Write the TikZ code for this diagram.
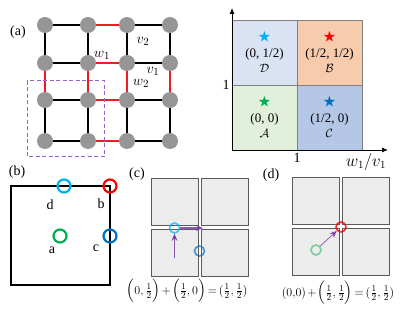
\documentclass[tikz,border=0pt]{standalone}
\usepackage{amsmath, amssymb}
\usepackage{fontspec}
\setmainfont{Liberation Serif}
\usetikzlibrary{arrows.meta, positioning}
\definecolor{sitegray}{RGB}{150, 150, 150}
\definecolor{bondred}{RGB}{235, 30, 35}
\definecolor{boxpurple}{RGB}{150, 100, 200}
\definecolor{arrowpurple}{RGB}{112, 48, 160}
\definecolor{regionA}{RGB}{226, 239, 218}
\definecolor{regionB}{RGB}{248, 203, 173}
\definecolor{regionC}{RGB}{180, 199, 231}
\definecolor{regionD}{RGB}{218, 227, 243}
\definecolor{starcyan}{RGB}{0, 176, 240}
\definecolor{starred}{RGB}{255, 0, 0}
\definecolor{stargreen}{RGB}{0, 176, 80}
\definecolor{starblue}{RGB}{0, 112, 192}
\definecolor{cellgray}{RGB}{236, 236, 236}
\definecolor{cellline}{RGB}{90, 90, 90}

\begin{document}
\begin{tikzpicture}[
  x=1pt, y=-1pt,
  site/.style={circle, fill=sitegray, minimum size=16pt, inner sep=0pt},
  hbond/.style={line width=1.9pt},
  vbond/.style={line width=1.1pt},
  redbond/.style={bondred, line width=1.2pt},
  region/.style={rectangle, draw=gray, minimum size=65pt, inner sep=0pt, align=center,
    font=\fontsize{13}{14.5}\selectfont},
  axis/.style={-{Latex[length=6pt, width=5pt]}, line width=0.9pt},
  ring/.style={circle, draw, line width=2.2pt, minimum size=13pt, inner sep=0pt},
  smallring/.style={circle, draw, line width=1.6pt, minimum size=10pt, inner sep=0pt},
  cell/.style={rectangle, draw=cellline, fill=cellgray, minimum size=47pt, inner sep=0pt, line width=0.6pt},
  parrow/.style={-{Stealth[length=7pt, width=6pt]}, arrowpurple, opacity=0.8},
  tag/.style={font=\fontsize{14}{16}\selectfont},
  letter/.style={font=\fontsize{14}{16}\selectfont},
  bondlabel/.style={font=\fontsize{15}{17}\selectfont},
  formula/.style={font=\fontsize{13}{15}\selectfont}
]
\useasboundingbox (0,0) rectangle (409,312);

% Panel (a): lattice
\node[tag] (taga) at (18,32) {(a)};
\node[site] (s11) at (45,25) {};  \node[site] (s12) at (88,25) {};  \node[site] (s13) at (127,25) {};  \node[site] (s14) at (170,25) {};
\node[site] (s21) at (45,63) {};  \node[site] (s22) at (88,63) {};  \node[site] (s23) at (127,63) {};  \node[site] (s24) at (170,63) {};
\node[site] (s31) at (45,100) {}; \node[site] (s32) at (88,100) {}; \node[site] (s33) at (127,100) {}; \node[site] (s34) at (170,100) {};
\node[site] (s41) at (45,141) {}; \node[site] (s42) at (88,141) {}; \node[site] (s43) at (127,141) {}; \node[site] (s44) at (170,141) {};

% horizontal bonds
\draw[hbond] (s11) -- (s12);  \draw[redbond] (s12) -- (s13);  \draw[hbond] (s13) -- (s14);
\draw[hbond] (s21) -- (s22);  \draw[redbond, line width=1.9pt] (s22) -- (s23);  \draw[hbond] (s23) -- (s24);
\draw[hbond] (s31) -- (s32);  \draw[redbond] (s32) -- (s33);  \draw[hbond] (s33) -- (s34);
\draw[hbond] (s41) -- (s42);  \draw[redbond] (s42) -- (s43);  \draw[hbond] (s43) -- (s44);

% vertical bonds
\draw[vbond] (s11) -- (s21);  \draw[redbond] (s21) -- (s31);  \draw[vbond] (s31) -- (s41);
\draw[vbond] (s12) -- (s22);  \draw[redbond] (s22) -- (s32);  \draw[vbond] (s32) -- (s42);
\draw[vbond] (s13) -- (s23);  \draw[redbond] (s23) -- (s33);  \draw[vbond] (s33) -- (s43);
\draw[vbond] (s14) -- (s24);  \draw[redbond] (s24) -- (s34);  \draw[vbond] (s34) -- (s44);

% bond labels
\node[bondlabel] (lw1) at (102,55) {$w_1$};
\node[bondlabel] (lv2) at (143,41) {$v_2$};
\node[bondlabel] (lv1) at (153,71) {$v_1$};
\node[bondlabel] (lw2) at (141,83) {$w_2$};

% unit cell
\draw[boxpurple, dashed, dash pattern=on 4pt off 2.5pt, line width=1pt] (27,81) rectangle (104,157);

% Panel (a): phase diagram
\node[region, fill=regionD] (D) at (264.5,52.5) {\textcolor{starcyan}{$\bigstar$}\\[2pt](0, 1/2)\\[1pt]$\mathcal{D}$};
\node[region, fill=regionB] (B) at (329.5,52.5) {\textcolor{starred}{$\bigstar$}\\[2pt](1/2, 1/2)\\[1pt]$\mathcal{B}$};
\node[region, fill=regionA] (A) at (264.5,117.5) {\textcolor{stargreen}{$\bigstar$}\\[2pt](0, 0)\\[1pt]$\mathcal{A}$};
\node[region, fill=regionC] (C) at (329.5,117.5) {\textcolor{starblue}{$\bigstar$}\\[2pt](1/2, 0)\\[1pt]$\mathcal{C}$};

\coordinate (origin) at (232,150);
\coordinate (ytop) at (232,8);
\coordinate (xend) at (388,150);
\draw[axis] (origin) -- (ytop);
\draw[axis] (origin) -- (xend);
\node[letter] (yone) at (226,85) {1};
\node[letter] (xone) at (297,158) {1};
\node[font=\fontsize{16}{18}\selectfont] (xlab) at (366,162) {$w_1/v_1$};

% Panel (b): unit cell with Wyckoff positions
\node[tag] (tagb) at (17,172) {(b)};
\draw[line width=1.2pt] (11,186) rectangle (110,285);
\node[ring, draw=starcyan] (pd) at (64,186) {};
\node[ring, draw=starred] (pb) at (110,186) {};
\node[ring, draw=starblue] (pc) at (110,236) {};
\node[ring, draw=stargreen] (pa) at (60,236) {};
\node[letter] (ld) at (50,205) {d};
\node[letter] (lb) at (101,204) {b};
\node[letter] (lc) at (96,248) {c};
\node[letter] (la) at (52,250) {a};

% Panel (c)
\node[tag] (tagc) at (137,174) {(c)};
\node[cell] (c11) at (174.5,202) {};
\node[cell] (c12) at (224.5,202) {};
\node[cell] (c21) at (174.5,252.5) {};
\node[cell] (c22) at (224.5,252.5) {};
\node[smallring, draw=starcyan, opacity=0.7] (cd) at (174.5,228) {};
\node[smallring, draw=starblue, opacity=0.7] (cc) at (199.5,251) {};
\coordinate (cstart) at (174.5,258);
\coordinate (cend) at (203,228);
\draw[parrow, line width=1pt] (cstart) -- (cd);
\draw[parrow, line width=1.5pt] (cd) -- (cend);
\node[formula] (eqc) at (187,291) {$\medmuskip=2mu \thickmuskip=3mu \Bigl(0,\frac{1}{2}\Bigr)+\Bigl(\frac{1}{2},0\Bigr)=(\frac{1}{2},\frac{1}{2})$};

% Panel (d)
\node[tag] (tagd) at (271,175) {(d)};
\node[cell] (d11) at (315.5,200.5) {};
\node[cell] (d12) at (365.5,200.5) {};
\node[cell] (d21) at (315.5,251.5) {};
\node[cell] (d22) at (365.5,251.5) {};
\node[smallring, draw=stargreen, opacity=0.5] (da) at (316,250) {};
\node[smallring, draw=starred, opacity=0.8] (db) at (341,227) {};
\draw[parrow, line width=0.7pt] (da) -- (db);
\node[formula] (eqd) at (338,293) {$\medmuskip=2mu \thickmuskip=3mu (0{,}0)+\Bigl(\frac{1}{2},\frac{1}{2}\Bigr)=(\frac{1}{2},\frac{1}{2})$};

\end{tikzpicture}
\end{document}
